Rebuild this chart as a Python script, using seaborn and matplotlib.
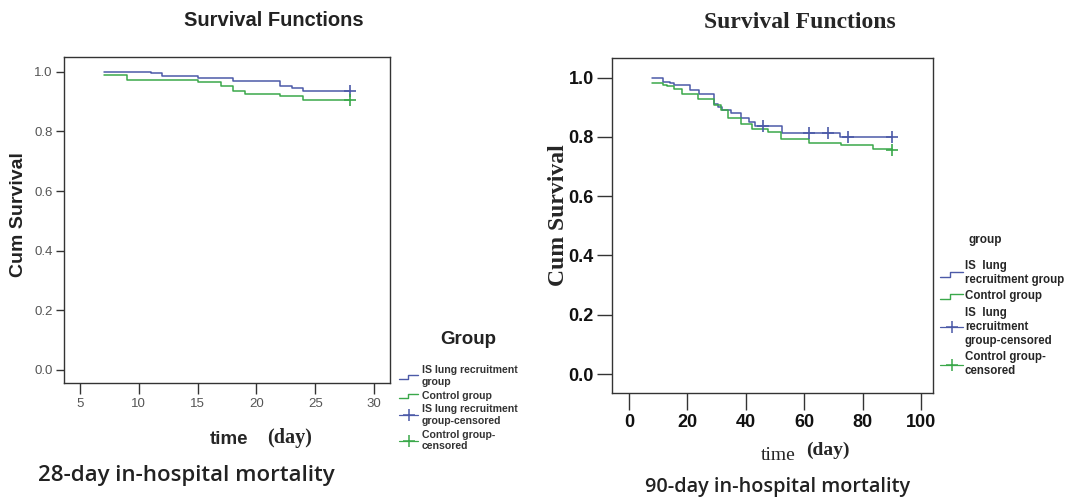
import matplotlib
matplotlib.use('Agg')
import matplotlib.pyplot as plt
import seaborn as sns
import pandas as pd
from matplotlib.lines import Line2D
from matplotlib.legend_handler import HandlerBase

# ---------------- data ----------------
# 28-day Kaplan-Meier curves (time in days, cumulative survival)
days_is_28 = [7, 11, 12, 15, 18, 22, 23, 24, 28]
surv_is_28 = [1.0, 0.995, 0.987, 0.979, 0.969, 0.954, 0.946, 0.935, 0.935]
days_ctrl_28 = [7, 9, 15, 17, 18, 19, 22, 24, 28]
surv_ctrl_28 = [0.99, 0.974, 0.965, 0.954, 0.935, 0.926, 0.918, 0.906, 0.906]
cens_is_28_t = [28]
cens_is_28_s = [0.935]
cens_ctrl_28_t = [28]
cens_ctrl_28_s = [0.906]

# 90-day Kaplan-Meier curves
days_is_90 = [8, 11.5, 14, 15.5, 21, 24, 29, 30.5, 32, 35, 38.5, 41, 43, 52.3, 72.3, 90]
surv_is_90 = [1.0, 0.985, 0.980, 0.974, 0.957, 0.944, 0.912, 0.901, 0.890, 0.879,
              0.862, 0.850, 0.835, 0.812, 0.800, 0.800]
days_ctrl_90 = [8, 11.5, 13, 15.5, 18, 23.5, 29, 31.5, 34, 38.5, 42, 47.5, 52, 61.5, 72.5, 83.5, 90]
surv_ctrl_90 = [0.982, 0.976, 0.971, 0.963, 0.946, 0.929, 0.907, 0.890, 0.862, 0.845,
                0.828, 0.817, 0.794, 0.779, 0.772, 0.760, 0.760]
cens_is_90_t = [45.9, 61.7, 68.3, 74.9, 90]
cens_is_90_s = [0.835, 0.812, 0.812, 0.800, 0.800]
cens_ctrl_90_t = [90]
cens_ctrl_90_s = [0.757]

xticks_28 = [5, 10, 15, 20, 25, 30]
xticks_90 = [0, 20, 40, 60, 80, 100]
yticks = [0.0, 0.2, 0.4, 0.6, 0.8, 1.0]

labels_28 = ["IS lung recruitment\ngroup", "Control group",
             "IS lung recruitment\ngroup-censored", "Control group-\ncensored"]
labels_90 = ["IS  lung\nrecruitment group", "Control group",
             "IS  lung\nrecruitment\ngroup-censored", "Control group-\ncensored"]

BLUE = '#4c5aa8'
GREEN = '#3aa84a'

# ---------------- style ----------------
sns.set_theme(style='ticks')
plt.rcParams['font.family'] = ['Liberation Sans', 'DejaVu Sans']
plt.rcParams['axes.edgecolor'] = '#333333'

W, H = 1065, 500
fig = plt.figure(figsize=(W / 100, H / 100), dpi=100)
fig.patch.set_facecolor('white')


def rect(l, t, r, b):
    return [l / W, 1 - b / H, (r - l) / W, (b - t) / H]


ax1 = fig.add_axes(rect(64, 57, 390, 383))
ax2 = fig.add_axes(rect(612, 58, 933, 393))


def draw(ax, dt_is, s_is, dt_c, s_c, cit, cis, cct, ccs):
    d1 = pd.DataFrame({'time': dt_is, 'surv': s_is})
    d2 = pd.DataFrame({'time': dt_c, 'surv': s_c})
    sns.lineplot(data=d1, x='time', y='surv', ax=ax, color=BLUE, lw=1.1,
                 drawstyle='steps-post', estimator=None, sort=False)
    sns.lineplot(data=d2, x='time', y='surv', ax=ax, color=GREEN, lw=1.1,
                 drawstyle='steps-post', estimator=None, sort=False)
    sns.scatterplot(x=cit, y=cis, ax=ax, marker='+', s=80, color=BLUE, linewidth=1.2, zorder=5)
    sns.scatterplot(x=cct, y=ccs, ax=ax, marker='+', s=80, color=GREEN, linewidth=1.2, zorder=5)
    for sp in ax.spines.values():
        sp.set_visible(True)
        sp.set_linewidth(1.0)
    ax.set_xlabel('')
    ax.set_ylabel('')


draw(ax1, days_is_28, surv_is_28, days_ctrl_28, surv_ctrl_28,
     cens_is_28_t, cens_is_28_s, cens_ctrl_28_t, cens_ctrl_28_s)
draw(ax2, days_is_90, surv_is_90, days_ctrl_90, surv_ctrl_90,
     cens_is_90_t, cens_is_90_s, cens_ctrl_90_t, cens_ctrl_90_s)

# axis 1 (28-day)
ax1.set_xlim(3.64, 31.36)
ax1.set_ylim(-0.044, 1.05)
ax1.set_xticks(xticks_28)
ax1.set_yticks(yticks)
ax1.set_yticklabels([f'{v:.1f}' for v in yticks])
ax1.tick_params(axis='both', labelsize=9.5, labelcolor='#555555', color='#333333', width=1)
ax1.tick_params(axis='x', length=8, pad=3)
ax1.tick_params(axis='y', length=6, pad=2)

# axis 2 (90-day)
ax2.set_xlim(-5.8, 104.1)
ax2.set_ylim(-0.064, 1.066)
ax2.set_xticks(xticks_90)
ax2.set_yticks(yticks)
ax2.set_yticklabels([f'{v:.1f}' for v in yticks])
for lab in ax2.get_xticklabels() + ax2.get_yticklabels():
    lab.set_fontweight('bold')
ax2.tick_params(axis='both', labelsize=13, labelcolor='#111111', color='#333333', width=1)
ax2.tick_params(axis='x', length=12, pad=3)
ax2.tick_params(axis='y', length=11, pad=2)


# ---------------- legends ----------------
class StepHandler(HandlerBase):
    def create_artists(self, legend, orig_handle, xdescent, ydescent, width, height, fontsize, trans):
        x0, y0 = -xdescent, -ydescent
        xs = [x0, x0 + width * 0.45, x0 + width * 0.45, x0 + width]
        ys = [y0 + height * 0.1, y0 + height * 0.1, y0 + height * 0.7, y0 + height * 0.7]
        return [Line2D(xs, ys, color=orig_handle.get_color(), lw=1, transform=trans)]


def handles():
    h1 = Line2D([], [], color=BLUE)
    h2 = Line2D([], [], color=GREEN)
    h3 = Line2D([], [], color=BLUE, lw=0.9, marker='+', markersize=9, markeredgewidth=1.1)
    h4 = Line2D([], [], color=GREEN, lw=0.9, marker='+', markersize=9, markeredgewidth=1.1)
    return [h1, h2, h3, h4]


hs = handles()
leg1 = fig.legend(hs, labels_28, loc='upper left', bbox_to_anchor=(392 / W, 1 - 358 / H),
                  frameon=False, prop={'size': 7.6, 'weight': 'bold'},
                  handlelength=1.8, handletextpad=0.3, labelspacing=0.35, borderpad=0.2,
                  handler_map={hs[0]: StepHandler(), hs[1]: StepHandler()})
for t in leg1.get_texts():
    t.set_color('#333333')

hs2 = handles()
leg2 = fig.legend(hs2, labels_90, loc='upper left', bbox_to_anchor=(932 / W, 1 - 252 / H),
                  frameon=False, prop={'size': 8.3, 'weight': 'bold'},
                  handlelength=2.0, handletextpad=0.15, labelspacing=0.4, borderpad=0.2,
                  handler_map={hs2[0]: StepHandler(), hs2[1]: StepHandler()})

# ---------------- texts ----------------
def ftext(x, y, s, **kw):
    fig.text(x / W, 1 - y / H, s, **kw)


serif = ['Liberation Serif', 'DejaVu Serif']

ftext(468, 340, 'Group', ha='center', va='center', fontsize=13.5, fontweight='bold',
      color='#222222')
ftext(985, 240, 'group', ha='center', va='center', fontsize=8.5, fontweight='bold')

ftext(274, 20, 'Survival Functions', ha='center', va='center', fontsize=14.5,
      fontweight='bold', color='#222222')
ftext(800, 22, 'Survival Functions', ha='center', va='center', fontsize=17,
      fontweight='bold', family=serif)

ftext(19, 215, 'Cum Survival', ha='center', va='center', rotation=90, fontsize=14,
      fontweight='bold', color='#222222')
ftext(558, 215, 'Cum Survival', ha='center', va='center', rotation=90, fontsize=17,
      fontweight='bold', family=serif)

ftext(248, 439, 'time', ha='right', va='center', fontsize=13.5, fontweight='bold')
ftext(267, 438, '(day)', ha='left', va='center', fontsize=14.5, fontweight='bold', family=serif)
ftext(796, 456, 'time', ha='right', va='center', fontsize=14, family=serif)
ftext(806, 450, '(day)', ha='left', va='center', fontsize=14, fontweight='bold', family=serif)

ftext(186, 476, '28-day in-hospital mortality', ha='center', va='center', fontsize=16,
      fontweight='semibold', family=['Open Sans', 'DejaVu Sans'], color='#222222')
ftext(778, 487, '90-day in-hospital mortality', ha='center', va='center', fontsize=14.3,
      fontweight='semibold', family=['Open Sans', 'DejaVu Sans'], color='#222222')

fig.savefig('out.png', dpi=100, facecolor='white')
